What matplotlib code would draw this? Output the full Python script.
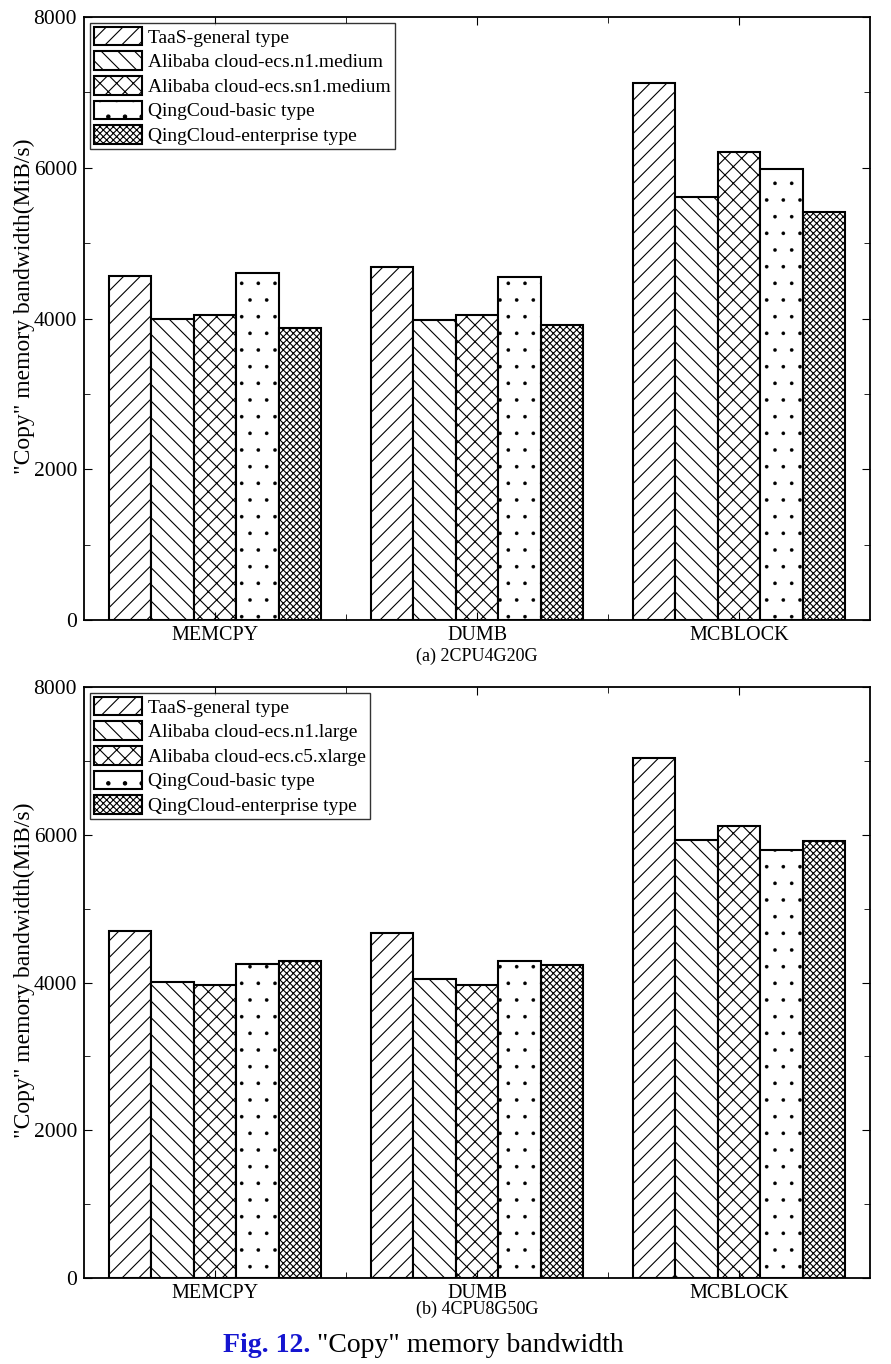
import numpy as np
import matplotlib.pyplot as plt
from matplotlib.ticker import MultipleLocator, FixedLocator

plt.rcParams['font.family'] = ['Liberation Serif', 'DejaVu Serif']
plt.rcParams['hatch.linewidth'] = 0.8

groups = ['MEMCPY', 'DUMB', 'MCBLOCK']

labels_a = ['TaaS-general type', 'Alibaba cloud-ecs.n1.medium',
            'Alibaba cloud-ecs.sn1.medium', 'QingCoud-basic type',
            'QingCloud-enterprise type']
taas_a = [4570, 4680, 7120]
n1_a = [3990, 3980, 5610]
sn1_a = [4050, 4040, 6210]
basic_a = [4610, 4550, 5980]
ent_a = [3870, 3910, 5410]

labels_b = ['TaaS-general type', 'Alibaba cloud-ecs.n1.large',
            'Alibaba cloud-ecs.c5.xlarge', 'QingCoud-basic type',
            'QingCloud-enterprise type']
taas_b = [4700, 4670, 7040]
n1_b = [4010, 4050, 5930]
c5_b = [3960, 3960, 6120]
basic_b = [4250, 4290, 5800]
ent_b = [4290, 4240, 5910]

hatches = ['//', '\\\\', 'xx', '.', 'xxxxx']

W, H = 891, 1364
fig = plt.figure(figsize=(W / 100, H / 100), dpi=100)
# axes boxes in pixels: left, top, right, bottom
ax1 = fig.add_axes([84 / W, 1 - 620 / H, (870 - 84) / W, (620 - 17) / H])
ax2 = fig.add_axes([84 / W, 1 - 1278 / H, (870 - 84) / W, (1278 - 687) / H])


def draw(ax, series, labels, sub, sub_off):
    x = np.arange(len(groups))
    w = 0.162
    for i, (vals, lab) in enumerate(zip(series, labels)):
        bars = ax.bar(x + (i - 2) * w, vals, w, color='white', edgecolor='black',
                      hatch=hatches[i], linewidth=1.5, label=lab)
        if hatches[i] == '.':
            for b in bars:
                if hasattr(b, 'set_hatch_linewidth'):
                    b.set_hatch_linewidth(0.2)
    ax.set_xlim(-0.5, 2.5)
    ax.set_ylim(0, 8000)
    ax.set_xticks(x)
    ax.set_xticklabels(groups, fontsize=14.5)
    ax.xaxis.set_minor_locator(FixedLocator([0.5, 1.5]))
    ax.yaxis.set_major_locator(MultipleLocator(2000))
    ax.yaxis.set_minor_locator(MultipleLocator(1000))
    ax.tick_params(axis='both', which='both', direction='in', top=True, right=True)
    ax.tick_params(axis='y', labelsize=15.5, pad=5)
    ax.tick_params(which='major', length=6)
    ax.tick_params(which='minor', length=4)
    ax.tick_params(axis='x', pad=4)
    for s in ax.spines.values():
        s.set_linewidth(1.3)
    ax.set_ylabel('"Copy" memory bandwidth(MiB/s)', fontsize=17)
    ax.yaxis.set_label_coords(-0.062, 0.52)
    leg = ax.legend(loc='upper left', fontsize=14, frameon=True, fancybox=False,
                    edgecolor='black', handlelength=2.5, handleheight=1.1,
                    labelspacing=0.24, borderpad=0.2, handletextpad=0.3,
                    borderaxespad=0.3)
    leg.get_frame().set_linewidth(1.0)
    ax.annotate(sub, xy=(0.5, 0), xycoords='axes fraction',
                xytext=(0, -sub_off), textcoords='offset pixels',
                ha='center', va='center', fontsize=13)


draw(ax1, [taas_a, n1_a, sn1_a, basic_a, ent_a], labels_a, '(a) 2CPU4G20G', 36)
draw(ax2, [taas_b, n1_b, c5_b, basic_b, ent_b], labels_b, '(b) 4CPU8G50G', 31)

cap_y = 1 - 1346 / H
t1 = fig.text(223 / W, cap_y, 'Fig. 12.', color='#1515d0', fontweight='bold',
              fontsize=20, ha='left', va='center')
fig.canvas.draw()
bb = t1.get_window_extent()
fig.text(bb.x1 / fig.bbox.width + 0.007, cap_y, '"Copy" memory bandwidth',
         fontsize=20, ha='left', va='center')

fig.savefig('out.png', dpi=100)
